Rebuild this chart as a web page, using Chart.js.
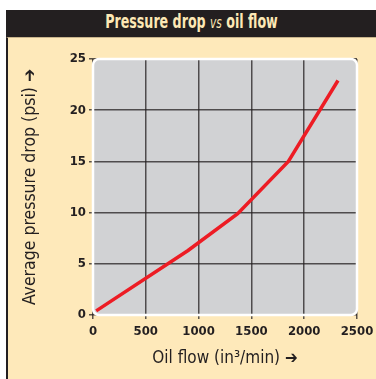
<!DOCTYPE html>
<html>
<head>
<meta charset="utf-8">
<script src="https://cdn.jsdelivr.net/npm/chart.js@4/dist/chart.umd.min.js"></script>
<style>
    html, body { margin: 0; padding: 0; background: #ffffff; }
    #wrap { position: relative; width: 376px; height: 379px; overflow: hidden; }
    #band {
        position: absolute; left: 6px; top: 10px; width: 370px; height: 27px;
        background: #231f20;
    }
    #band span {
        position: absolute; left: 0; width: 370px; top: 0;
        color: #fde8b5; text-align: center; line-height: 29px; white-space: nowrap;
        font: bold 19px "DejaVu Sans Condensed", sans-serif;
        transform: scaleX(0.74); transform-origin: 187px 0;
    }
    #band i { font-size: 16px; font-weight: normal; }
    #panel {
        position: absolute; left: 6px; top: 37px; width: 370px; height: 342px;
        background: #fee9ba; border-top: 1px solid #c8b48c; border-left: 2px solid #231f20;
        box-sizing: border-box;
    }
    #myChart { position: absolute; left: 0; top: 0; }
</style>
</head>
<body>
<div id="wrap">
    <div id="band"><span>Pressure drop <i>vs</i> oil flow</span></div>
    <div id="panel"></div>
    <canvas id="myChart" width="376" height="379"></canvas>
</div>
<script>
    ("use strict");

    // oil flow (in3/min) and average pressure drop (psi)
    const flowValues = [30, 900, 1370, 1850, 2320];
    const pressureValues = [0.4, 6.3, 9.9, 15.0, 22.9];
    const flowTicks = [0, 500, 1000, 1500, 2000, 2500];
    const pressureTicks = [0, 5, 10, 15, 20, 25];

    const labelFont = "'DejaVu Sans Condensed', sans-serif";

    // rounded grey plot panel, white rim drawn after the grid
    function roundRect(ctx, a, r) {
        ctx.beginPath();
        ctx.roundRect(a.left, a.top, a.right - a.left, a.bottom - a.top, r);
    }
    const plotPanel = {
        id: "plotPanel",
        beforeDraw(chart) {
            const ctx = chart.ctx;
            ctx.save();
            roundRect(ctx, chart.chartArea, 6);
            ctx.fillStyle = "#d1d2d4";
            ctx.fill();
            ctx.restore();
        },
        beforeDatasetsDraw(chart) {
            const ctx = chart.ctx;
            ctx.save();
            roundRect(ctx, chart.chartArea, 6);
            ctx.strokeStyle = "#ffffff";
            ctx.lineWidth = 2.5;
            ctx.stroke();
            ctx.restore();
        },
    };

    const ctx = document.getElementById("myChart");
    new Chart(ctx, {
        type: "line",
        data: {
            datasets: [
                {
                    data: flowValues.map((x, i) => ({ x: x, y: pressureValues[i] })),
                    borderColor: "#ed1c24",
                    borderWidth: 3.5,
                    pointRadius: 0,
                    tension: 0,
                    fill: false,
                },
            ],
        },
        options: {
            responsive: false,
            animation: false,
            layout: {
                padding: { top: 59, right: 19, bottom: 0, left: 0 },
            },
            plugins: {
                legend: { display: false },
                tooltip: { enabled: false },
            },
            scales: {
                x: {
                    type: "linear",
                    min: 0,
                    max: 2500,
                    afterFit: (scale) => {
                        scale.height = 64;
                        scale.paddingLeft = 0;
                        scale.paddingRight = 0;
                    },
                    afterBuildTicks: (scale) => { scale.ticks = flowTicks.map((v) => ({ value: v })); },
                    grid: { color: "rgba(35,31,32,0.75)", lineWidth: 1.5, tickLength: 4 },
                    border: { display: false },
                    ticks: {
                        color: "#231f20",
                        padding: 5,
                        maxRotation: 0,
                        callback: (v) => String(v),
                        font: { family: labelFont, size: 13, weight: "bold" },
                    },
                    title: {
                        display: true,
                        text: "Oil flow (in\u00b3/min) \u2794",
                        color: "#231f20",
                        padding: { top: 0, bottom: 10 },
                        font: { family: labelFont, size: 17 },
                    },
                },
                y: {
                    min: 0,
                    max: 25,
                    afterFit: (scale) => { scale.width = 93; },
                    afterBuildTicks: (scale) => { scale.ticks = pressureTicks.map((v) => ({ value: v })); },
                    grid: { color: "rgba(35,31,32,0.75)", lineWidth: 1.5, tickLength: 4 },
                    border: { display: false },
                    ticks: {
                        color: "#231f20",
                        padding: 3,
                        callback: (v) => String(v),
                        font: { family: labelFont, size: 13, weight: "bold" },
                    },
                    title: {
                        display: true,
                        text: "Average pressure drop (psi) \u2794",
                        color: "#231f20",
                        padding: { top: 20, bottom: 0 },
                        font: { family: labelFont, size: 17.5 },
                    },
                },
            },
        },
        plugins: [plotPanel],
    });
</script>
</body>
</html>
